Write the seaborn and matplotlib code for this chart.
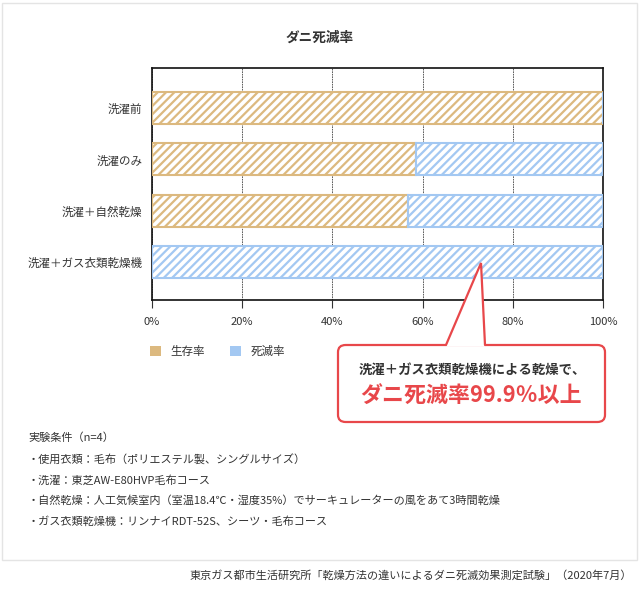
import numpy as np
import pandas as pd
import matplotlib
matplotlib.use("Agg")
import matplotlib.pyplot as plt
import seaborn as sns
from matplotlib.patches import Patch, FancyBboxPatch, Polygon, Rectangle
from matplotlib.lines import Line2D

# data
categories = ["洗濯前", "洗濯のみ", "洗濯＋自然乾燥", "洗濯＋ガス衣類乾燥機"]
survival = [100.0, 58.5, 56.8, 0.1]
death = [0.0, 41.5, 43.2, 99.9]
x_ticks = [0, 20, 40, 60, 80, 100]
legend_labels = ["生存率", "死滅率"]
notes = [
    "実験条件（n=4）",
    "・使用衣類：毛布（ポリエステル製、シングルサイズ）",
    "・洗濯：東芝AW-E80HVP毛布コース",
    "・自然乾燥：人工気候室内（室温18.4℃・湿度35%）でサーキュレーターの風をあて3時間乾燥",
    "・ガス衣類乾燥機：リンナイRDT-52S、シーツ・毛布コース",
]
callout_line1 = "洗濯＋ガス衣類乾燥機による乾燥で、"
callout_line2 = "ダニ死滅率99.9％以上"
source = "東京ガス都市生活研究所「乾燥方法の違いによるダニ死滅効果測定試験」（2020年7月）"

TAN = "#dcb97f"
BLUE = "#a3c8f2"
RED = "#e8474a"
TEXT = "#333333"

sns.set_theme(style="white")
plt.rcParams["font.family"] = ["Noto Sans CJK JP", "DejaVu Sans"]
plt.rcParams["hatch.linewidth"] = 1.6

W, H = 640, 591
fig = plt.figure(figsize=(W / 100, H / 100), dpi=100)


def fx(x):
    return x / W


def fy(y):
    return 1 - y / H


ax = fig.add_axes([fx(152), fy(300), fx(603) - fx(152), fy(68) - fy(300)])

df = pd.DataFrame({"category": categories, "survival": survival, "death": death})

# survival part via seaborn, death part stacked on top of it
sns.barplot(data=df, x="survival", y="category", ax=ax, orient="h",
            color="white", edgecolor=TAN, linewidth=1.5, hatch="////",
            width=0.62, saturation=1, zorder=3)
ax.barh(np.arange(len(categories)), df["death"], left=df["survival"],
        height=0.62, color="white", edgecolor=BLUE, linewidth=1.5,
        hatch="////", zorder=3)

ax.set_xlim(0, 100)
ax.set_ylim(3.74, -0.78)
ax.set_xticks(x_ticks)
ax.set_xticklabels([f"{t}%" for t in x_ticks], fontsize=8, color=TEXT)
ax.tick_params(axis="x", length=6, width=0.8, color="#333333", pad=6,
               direction="out", bottom=True)
ax.tick_params(axis="y", length=0, pad=7, labelsize=8.3, labelcolor=TEXT)
ax.set_xlabel("")
ax.set_ylabel("")
ax.xaxis.grid(True, color="#444444", linestyle=(0, (2, 1)), linewidth=0.6)
ax.set_axisbelow(True)
for s in ax.spines.values():
    s.set_visible(True)
    s.set_color("#111111")
    s.set_linewidth(1.2)

fig.text(fx(320), fy(38), "ダニ死滅率", ha="center", va="center",
         fontsize=9.8, fontweight="bold", color=TEXT)

handles = [Patch(facecolor=TAN, edgecolor="none"),
           Patch(facecolor=BLUE, edgecolor="none")]
fig.legend(handles, legend_labels, loc="center left",
           bbox_to_anchor=(fx(150), fy(351)), ncol=2, frameon=False,
           fontsize=8.3, handlelength=0.95, handleheight=0.95,
           handletextpad=0.8, columnspacing=2.2, borderpad=0,
           borderaxespad=0, labelcolor=TEXT)

# outer panel
fig.add_artist(Rectangle((fx(2), fy(560)), fx(637) - fx(2), fy(3) - fy(560),
                         transform=fig.transFigure, fill=False,
                         edgecolor="#e4e4e4", linewidth=1, zorder=0))

# callout bubble
box = FancyBboxPatch((fx(338), fy(422)), fx(605) - fx(338), fy(345) - fy(422),
                     boxstyle="round,pad=0,rounding_size=0.012",
                     transform=fig.transFigure, facecolor="white",
                     edgecolor=RED, linewidth=1.6, zorder=10)
fig.add_artist(box)
tail = [(fx(446), fy(346.5)), (fx(481), fy(263)), (fx(485), fy(346.5))]
fig.add_artist(Polygon(tail, closed=True, transform=fig.transFigure,
                       facecolor="white", edgecolor="none", zorder=11))
fig.add_artist(Line2D([fx(446), fx(481), fx(485)], [fy(345), fy(263), fy(345)],
                      transform=fig.transFigure, color=RED, linewidth=1.6,
                      solid_joinstyle="miter", zorder=12))
fig.text(fx(472), fy(370), callout_line1, ha="center", va="center",
         fontsize=9.6, fontweight="bold", color=TEXT, zorder=13)
fig.text(fx(471), fy(396), callout_line2, ha="center", va="center",
         fontsize=15.8, fontweight="bold", color=RED, zorder=13)

# notes
note_y = [438, 459, 480, 501, 522]
for t, y in zip(notes, note_y):
    fig.text(fx(28), fy(y), t, ha="left", va="center", fontsize=8, color=TEXT)

fig.text(fx(632), fy(575), source, ha="right", va="center", fontsize=8,
         color=TEXT)

fig.savefig("out.png", dpi=100, facecolor="white")
